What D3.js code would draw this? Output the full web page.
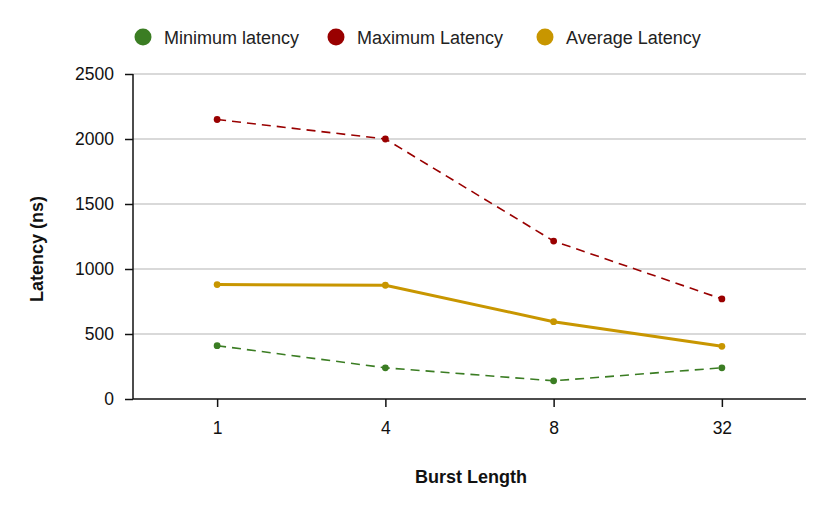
<!DOCTYPE html>
<html><head><meta charset="utf-8">
<script src="https://cdn.jsdelivr.net/npm/d3@7"></script>
<style>body{margin:0;background:#fff;font-family:"Liberation Sans",Arial,sans-serif;}</style>
</head><body><svg id="c" width="830" height="513"></svg>
<script>
const categories = ["1","4","8","32"];
const minLatency = [410, 240, 140, 240];
const maxLatency = [2150, 2000, 1215, 770];
const avgLatency = [880, 875, 595, 405];
const yTicks = [0, 500, 1000, 1500, 2000, 2500];
const seriesNames = ["Minimum latency", "Maximum Latency", "Average Latency"];
const seriesColors = ["#3b7d23", "#990000", "#c89600"];

const svg = d3.select("#c");
const m = {l:133, r:806, t:74, b:399};
const x = d3.scalePoint().domain(categories).range([m.l, m.r]).padding(0.5);
const y = d3.scaleLinear().domain([0, 2500]).range([m.b, m.t]);

// grid
svg.append("g").selectAll("line").data(yTicks.filter(d=>d>0)).join("line")
  .attr("x1", m.l).attr("x2", m.r).attr("y1", d=>y(d)).attr("y2", d=>y(d))
  .attr("stroke", "#cccccc").attr("stroke-width", 1.3);

// axes
const ya = svg.append("g").attr("transform", `translate(${m.l},0)`)
  .call(d3.axisLeft(y).tickValues(yTicks).tickSize(8).tickPadding(11).tickFormat(d3.format("d")));
const xa = svg.append("g").attr("transform", `translate(0,${m.b})`)
  .call(d3.axisBottom(x).tickSize(8).tickPadding(15));
xa.select(".domain").attr("d", `M${m.l},0H${m.r}`);
ya.select(".domain").attr("d", `M0,${m.t}V${m.b}`);
[ya, xa].forEach(a => {
  a.selectAll("text").attr("font-size", 17.5).attr("fill", "#111").attr("font-family", "Liberation Sans, Arial, sans-serif");
  a.selectAll("line,path").attr("stroke", "#111").attr("stroke-width", 1.5);
});

svg.append("text").attr("transform", `translate(43,249) rotate(-90)`)
  .attr("text-anchor", "middle").attr("font-size", 18).attr("font-weight", "bold").attr("fill", "#111")
  .text("Latency (ns)");
svg.append("text").attr("x", 471).attr("y", 483)
  .attr("text-anchor", "middle").attr("font-size", 18).attr("font-weight", "bold").attr("fill", "#111")
  .text("Burst Length");

const series = [
  {vals: minLatency, color: seriesColors[0], w: 1.6, dash: "9,6"},
  {vals: maxLatency, color: seriesColors[1], w: 1.6, dash: "9,6"},
  {vals: avgLatency, color: seriesColors[2], w: 3, dash: null}
];
const line = d3.line().x((d,i)=>x(categories[i])).y(d=>y(d));
series.forEach(s => {
  svg.append("path").attr("d", line(s.vals)).attr("fill", "none")
    .attr("stroke", s.color).attr("stroke-width", s.w).attr("stroke-dasharray", s.dash);
  svg.append("g").selectAll("circle").data(s.vals).join("circle")
    .attr("cx", (d,i)=>x(categories[i])).attr("cy", d=>y(d)).attr("r", 3.4).attr("fill", s.color);
});

// legend
const legX = [143, 336, 545];
const lg = svg.append("g");
seriesNames.forEach((n,i) => {
  lg.append("circle").attr("cx", legX[i]).attr("cy", 37).attr("r", 8.5).attr("fill", seriesColors[i]);
  lg.append("text").attr("x", legX[i]+21).attr("y", 43.5).attr("font-size", 18).attr("fill", "#222").text(n);
});
</script></body></html>
